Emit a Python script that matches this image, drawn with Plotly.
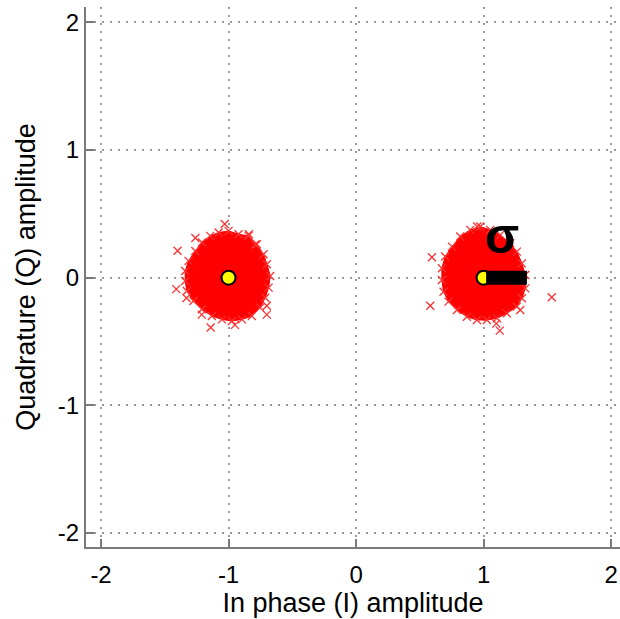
import plotly.graph_objects as go

# ---- data ----
ideal_i = [-1, 1]
ideal_q = [0, 0]

left_core_i = [-1.078, -1.000, -0.922, -0.843, -0.778, -0.725, -0.699, -0.673, -0.686, -0.712,
               -0.752, -0.817, -0.895, -0.974, -1.052, -1.131, -1.209, -1.275, -1.327, -1.340,
               -1.340, -1.314, -1.261, -1.209, -1.144]
left_core_q = [0.353, 0.366, 0.340, 0.327, 0.261, 0.183, 0.105, 0.013, -0.078, -0.157,
               -0.235, -0.301, -0.327, -0.340, -0.327, -0.301, -0.248, -0.183, -0.105, -0.026,
               0.052, 0.131, 0.209, 0.275, 0.327]

right_core_i = [0.895, 0.974, 1.052, 1.131, 1.209, 1.261, 1.301, 1.327, 1.327, 1.301,
                1.261, 1.183, 1.105, 1.026, 0.948, 0.869, 0.791, 0.725, 0.686, 0.673,
                0.673, 0.699, 0.752, 0.817]
right_core_q = [0.374, 0.400, 0.374, 0.335, 0.269, 0.204, 0.112, 0.021, -0.084, -0.162,
                -0.227, -0.280, -0.319, -0.332, -0.332, -0.306, -0.254, -0.188, -0.110, -0.018,
                0.073, 0.165, 0.243, 0.322]

outlier_i = [-1.40, -1.03, -0.84, -1.14, -0.70, -1.41, -1.26, -1.33, -1.21, -0.95, -0.70, -0.79,
             0.595, 0.582, 1.535, 1.127, 1.288, 1.10, 0.95]
outlier_q = [0.21, 0.42, 0.34, -0.39, -0.22, -0.09, 0.31, -0.16, -0.29, -0.37, -0.29, 0.26,
             0.16, -0.22, -0.154, -0.415, -0.254, -0.36, 0.40]

sigma_bar_i = [1.02, 1.34]
sigma_bar_q = [0, 0]
sigma_label_i = 1.143
sigma_label_q = 0.324

tick_vals = [-2, -1, 0, 1, 2]
tick_text = ["-2", "-1", "0", "1", "2"]

RED = "#ff0000"
FONT = "Liberation Sans, Arial, sans-serif"

fig = go.Figure()

for ci, cq in [(left_core_i, left_core_q), (right_core_i, right_core_q)]:
    fig.add_trace(go.Scatter(x=ci + [ci[0]], y=cq + [cq[0]], mode="lines", fill="toself",
                             fillcolor=RED, line=dict(color=RED, width=1), hoverinfo="skip"))
    fig.add_trace(go.Scatter(x=ci, y=cq, mode="markers",
                             marker=dict(symbol="x-thin-open", size=8, color="#ff3030",
                                         line=dict(color="#ff3030", width=1.3))))

fig.add_trace(go.Scatter(x=outlier_i, y=outlier_q, mode="markers",
                         marker=dict(symbol="x-thin-open", size=8, color="#ff3030",
                                     line=dict(color="#ff3030", width=1.3))))

fig.add_trace(go.Scatter(x=ideal_i, y=ideal_q, mode="markers",
                         marker=dict(symbol="circle", size=14, color="#ffff00",
                                     line=dict(color="black", width=2))))

fig.add_trace(go.Scatter(x=sigma_bar_i, y=sigma_bar_q, mode="lines",
                         line=dict(color="black", width=14)))

fig.add_annotation(x=sigma_label_i, y=sigma_label_q, text="<b>σ</b>", showarrow=False,
                   font=dict(family=FONT, size=50, color="black"), xanchor="center", yanchor="middle")

axis_common = dict(
    tickmode="array", tickvals=tick_vals, ticktext=tick_text,
    showgrid=True, gridcolor="#999999", griddash="2px,6px", gridwidth=1.5,
    zeroline=False, showline=True, linecolor="#7a7a7a", linewidth=2,
    ticks="inside", ticklen=8, tickwidth=2, tickcolor="#7a7a7a",
    tickfont=dict(family=FONT, size=24, color="black"),
    mirror=False, automargin=False, ticklabeloverflow="allow",
)

fig.update_layout(
    width=620, height=619,
    margin=dict(l=86, r=0, t=7, b=72),
    paper_bgcolor="white", plot_bgcolor="white",
    showlegend=False,
    xaxis=dict(range=[-2.118, 2.07], ticklabelstandoff=5,
               title=dict(text="In phase (I) amplitude", font=dict(family=FONT, size=27, color="black"),
                          standoff=0),
               **axis_common),
    yaxis=dict(range=[-2.11, 2.12], ticklabelstandoff=0,
               title=dict(text="Quadrature (Q) amplitude", font=dict(family=FONT, size=27, color="black"),
                          standoff=14),
               **axis_common),
)

fig.write_html("out.html",
               config={"displayModeBar": False},
               post_script="document.body.style.margin='0';document.body.style.overflow='hidden';")
